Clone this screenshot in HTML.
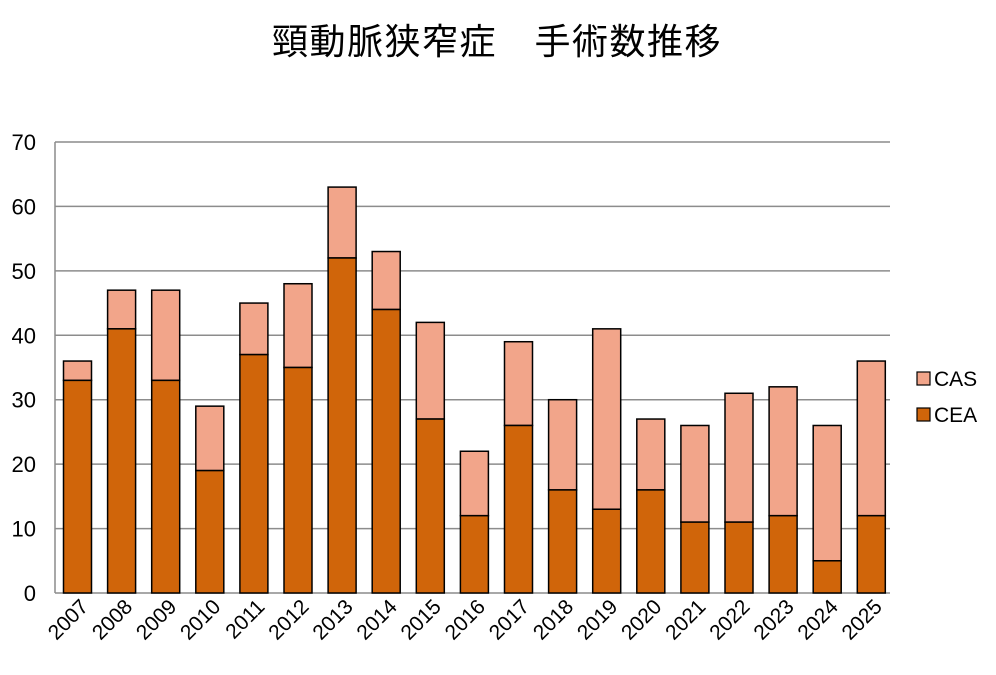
<!DOCTYPE html>
<html><head><meta charset="utf-8"><style>
body{margin:0;background:#fff;width:996px;height:670px;overflow:hidden}
svg text{font-family:"Liberation Sans","Noto Sans CJK JP",sans-serif;fill:#000}
</style></head><body>
<svg id="c" width="996" height="670" xmlns="http://www.w3.org/2000/svg">
<text x="497" y="54" font-size="36" text-anchor="middle" letter-spacing="1.5" style="font-family:'Noto Sans CJK JP',sans-serif">頸動脈狭窄症　手術数推移</text>
</svg>
<script>
var s=document.getElementById('c'),h='';
function Y(v){return 593-6.443*v;}
for(var i=0;i<=7;i++){var y=Y(i*10);
 h+='<line x1="55" x2="890" y1="'+y+'" y2="'+y+'" stroke="#8c8c8c" stroke-width="1.5"/>';
 h+='<text x="36" y="'+(y+8)+'" font-size="22" text-anchor="end">'+(i*10)+'</text>';}
h+='<line x1="55" x2="55" y1="142" y2="593" stroke="#8c8c8c" stroke-width="1.5"/>';
var d=[[33,36],[41,47],[33,47],[19,29],[37,45],[35,48],[52,63],[44,53],[27,42],[12,22],[26,39],[16,30],[13,41],[16,27],[11,26],[11,31],[12,32],[5,26],[12,36]];
for(var i=0;i<d.length;i++){var x=63.5+i*44.1,w=28;
 h+='<rect x="'+x+'" y="'+Y(d[i][1])+'" width="'+w+'" height="'+(Y(d[i][0])-Y(d[i][1]))+'" fill="#f2a58a" stroke="#000" stroke-width="1.5"/>';
 h+='<rect x="'+x+'" y="'+Y(d[i][0])+'" width="'+w+'" height="'+(593-Y(d[i][0]))+'" fill="#d0650a" stroke="#000" stroke-width="1.5"/>';
 var cx=x+w/2+12,cy=608;
 h+='<text font-size="21" text-anchor="end" transform="translate('+cx+','+cy+') rotate(-45)">'+(2007+i)+'</text>';}
h+='<rect x="917" y="372" width="13" height="13" fill="#f2a58a" stroke="#000" stroke-width="1.2"/><text x="934" y="386" font-size="21">CAS</text>';
h+='<rect x="917" y="408" width="13" height="13" fill="#d0650a" stroke="#000" stroke-width="1.2"/><text x="934" y="422" font-size="21">CEA</text>';
s.insertAdjacentHTML('beforeend',h);
</script>
</body></html>
